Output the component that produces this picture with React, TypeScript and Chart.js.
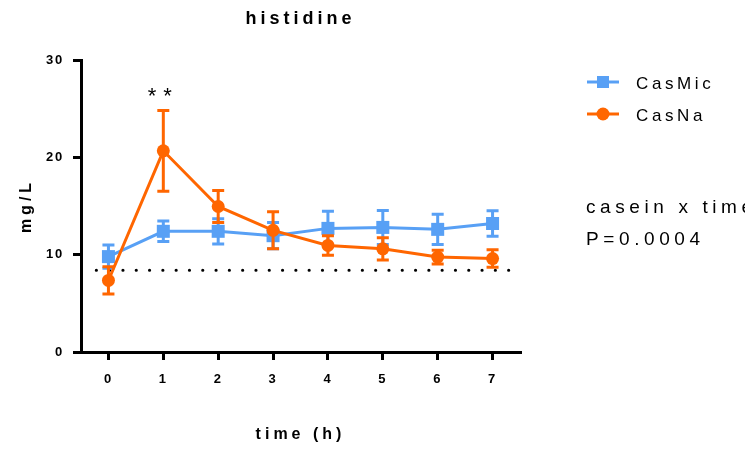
import React, { useEffect, useRef } from 'react';
import { Chart, registerables } from 'chart.js';

Chart.register(...registerables);

// ---------- data ----------
const chartTitle = 'histidine';
const xAxisTitle = 'time (h)';
const yAxisTitle = 'mg/L';
const timePoints = [0, 1, 2, 3, 4, 5, 6, 7];
const xTickValues = [0, 1, 2, 3, 4, 5, 6, 7];
const yTickValues = [0, 10, 20, 30];
const seriesNames = ['CasMic', 'CasNa'];
const casMicMean = [9.8, 12.4, 12.4, 11.95, 12.7, 12.8, 12.6, 13.2];
const casMicErr = [1.2, 1.05, 1.3, 1.35, 1.75, 1.75, 1.55, 1.3];
const casNaMean = [7.35, 20.67, 14.95, 12.5, 10.95, 10.6, 9.75, 9.6];
const casNaErr = [1.4, 4.15, 1.65, 1.9, 1.0, 1.15, 0.7, 0.9];
const baselineLevel = 8.4;
const baselineSpan = [-0.22, 7.3];
const significanceMark = '**';
const significanceTime = 1;
const statText = ['casein x time', 'P=0.0004'];

const BLUE = 'rgb(88,160,245)';
const ORANGE = 'rgb(255,102,0)';
const FONT = "'Liberation Sans', Arial, sans-serif";

const spacingBySize: Record<number, number> = { 13: 1.8, 16: 4, 18: 4, 17: 3.6, 19: 4.6, 22: 7 };

function patchSpacing(ctx: any) {
  const origFill = ctx.fillText.bind(ctx);
  const origMeasure = ctx.measureText.bind(ctx);
  const apply = () => {
    const m = /(\d+(?:\.\d+)?)px/.exec(ctx.font);
    const size = m ? Math.round(parseFloat(m[1])) : 0;
    const s = spacingBySize[size] ?? 0;
    ctx.letterSpacing = s + 'px';
  };
  ctx.fillText = (t: string, x: number, y: number, mw?: number) => {
    apply();
    if (mw === undefined) origFill(t, x, y);
    else origFill(t, x, y, mw);
  };
  ctx.measureText = (t: string) => {
    apply();
    return origMeasure(t);
  };
}

const errorBarPlugin = {
  id: 'errorBars',
  beforeDatasetDraw(chart: any, args: any) {
    const ds = chart.data.datasets[args.index];
    const errs: number[] | undefined = ds.errors;
    if (!errs) return;
    const ctx = chart.ctx;
    const xs = chart.scales.x;
    const ys = chart.scales.y;
    ctx.save();
    ctx.strokeStyle = ds.borderColor;
    ctx.lineWidth = 3;
    ds.data.forEach((p: any, i: number) => {
      const x = xs.getPixelForValue(p.x);
      const yt = ys.getPixelForValue(p.y + errs[i]);
      const yb = ys.getPixelForValue(p.y - errs[i]);
      ctx.beginPath();
      ctx.moveTo(x, yt);
      ctx.lineTo(x, yb);
      ctx.moveTo(x - 6, yt);
      ctx.lineTo(x + 6, yt);
      ctx.moveTo(x - 6, yb);
      ctx.lineTo(x + 6, yb);
      ctx.stroke();
    });
    ctx.restore();
  },
};

const annotationPlugin = {
  id: 'annotations',
  afterDraw(chart: any) {
    const ctx = chart.ctx;
    const xs = chart.scales.x;
    const ys = chart.scales.y;
    ctx.save();
    // significance mark
    ctx.fillStyle = '#000';
    ctx.font = `22px ${FONT}`;
    ctx.textAlign = 'center';
    ctx.textBaseline = 'alphabetic';
    const sx = xs.getPixelForValue(significanceTime);
    const sy = ys.getPixelForValue(casNaMean[1] + casNaErr[1]) - 7;
    ctx.fillText(significanceMark, sx, sy);

    // legend
    const legendX = 587;
    const rows = [82, 114];
    const colors = [BLUE, ORANGE];
    rows.forEach((y, i) => {
      ctx.strokeStyle = colors[i];
      ctx.fillStyle = colors[i];
      ctx.lineWidth = 3;
      ctx.beginPath();
      ctx.moveTo(legendX, y);
      ctx.lineTo(legendX + 32, y);
      ctx.stroke();
      ctx.beginPath();
      if (i === 0) ctx.rect(legendX + 16 - 6, y - 6, 12, 12);
      else ctx.arc(legendX + 16, y, 6.5, 0, Math.PI * 2);
      ctx.fill();
      ctx.fillStyle = '#000';
      ctx.font = `17px ${FONT}`;
      ctx.textAlign = 'left';
      ctx.textBaseline = 'alphabetic';
      ctx.fillText(seriesNames[i], 636, y + 6.5);
    });

    // stats text
    ctx.font = `19px ${FONT}`;
    ctx.fillStyle = '#000';
    ctx.textAlign = 'left';
    ctx.fillText(statText[0], 586, 213);
    ctx.fillText(statText[1], 586, 245);
    ctx.restore();
  },
};

export default function App() {
  const canvasRef = useRef<HTMLCanvasElement | null>(null);

  useEffect(() => {
    document.body.style.margin = '0';
    const canvas = canvasRef.current!;
    const ctx = canvas.getContext('2d')!;
    patchSpacing(ctx);

    const tickSet = (vals: number[]) => (axis: any) => {
      axis.ticks = vals.map((v) => ({ value: v }));
    };

    const chart = new Chart(ctx, {
      type: 'line',
      data: {
        datasets: [
          {
            label: seriesNames[1],
            data: timePoints.map((t, i) => ({ x: t, y: casNaMean[i] })),
            errors: casNaErr,
            borderColor: ORANGE,
            backgroundColor: ORANGE,
            borderWidth: 3,
            pointStyle: 'circle',
            pointRadius: 6.5,
            pointBorderWidth: 0,
            order: 0,
          } as any,
          {
            label: seriesNames[0],
            data: timePoints.map((t, i) => ({ x: t, y: casMicMean[i] })),
            errors: casMicErr,
            borderColor: BLUE,
            backgroundColor: BLUE,
            borderWidth: 3,
            pointStyle: 'rect',
            pointRadius: 9.2,
            pointBorderWidth: 0,
            order: 1,
          } as any,
          {
            label: 'baseline',
            data: baselineSpan.map((x) => ({ x, y: baselineLevel })),
            borderColor: '#000',
            borderWidth: 3.2,
            borderDash: [0, 13.3],
            borderCapStyle: 'round',
            pointRadius: 0,
            order: 2,
          } as any,
        ],
      },
      options: {
        animation: false,
        responsive: false,
        devicePixelRatio: 1,
        font: { family: FONT },
        layout: { padding: { top: 0, right: 225, bottom: 0, left: 0 } },
        plugins: {
          legend: { display: false },
          tooltip: { enabled: false },
          title: {
            display: true,
            text: chartTitle,
            color: '#000',
            fullSize: false,
            font: { family: FONT, size: 18, weight: 'bold' },
            padding: { top: 8, bottom: 30.4 },
          },
        },
        scales: {
          x: {
            type: 'linear',
            min: -0.5,
            max: 7.5,
            afterBuildTicks: tickSet(xTickValues),
            afterFit: (s: any) => {
              s.height = 97;
            },
            border: { display: true, color: '#000', width: 3 },
            grid: {
              display: true,
              drawOnChartArea: false,
              drawTicks: true,
              tickLength: 8,
              tickWidth: 3,
              lineWidth: 3,
              tickColor: '#000',
            },
            ticks: {
              color: '#000',
              padding: 12,
              font: { family: FONT, size: 13, weight: 'bold' },
            },
            title: {
              display: true,
              text: xAxisTitle,
              color: '#000',
              font: { family: FONT, size: 16, weight: 'bold' },
              padding: { top: 0, bottom: 5 },
            },
          },
          y: {
            min: 0,
            max: 30,
            afterBuildTicks: tickSet(yTickValues),
            afterFit: (s: any) => {
              s.width = 81;
            },
            border: { display: true, color: '#000', width: 3 },
            grid: {
              display: true,
              drawOnChartArea: false,
              drawTicks: true,
              tickLength: 8,
              tickWidth: 3,
              lineWidth: 3,
              tickColor: '#000',
            },
            ticks: {
              color: '#000',
              padding: 9,
              font: { family: FONT, size: 13, weight: 'bold' },
            },
            title: {
              display: true,
              text: yAxisTitle,
              color: '#000',
              font: { family: FONT, size: 16, weight: 'bold' },
              padding: { top: 17, bottom: 0 },
            },
          },
        },
      } as any,
      plugins: [errorBarPlugin, annotationPlugin],
    });

    return () => chart.destroy();
  }, []);

  return (
    <div style={{ width: 745, height: 449, position: 'relative' }}>
      <canvas ref={canvasRef} width={745} height={449} style={{ width: 745, height: 449 }} />
    </div>
  );
}
